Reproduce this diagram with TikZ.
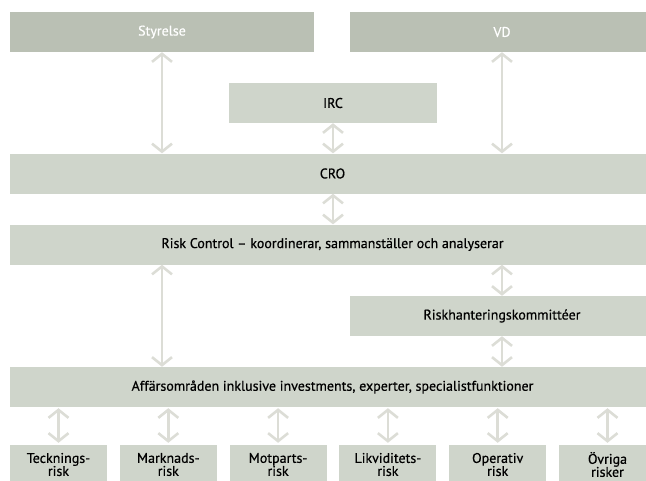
\documentclass[tikz,border=0pt]{standalone}
\usepackage{fontspec}
\setmainfont{PT Sans}[FakeBold=0.5]
\usetikzlibrary{arrows.meta}
\definecolor{darkbox}{HTML}{BAC0B4}
\definecolor{lightbox}{HTML}{CFD5CB}
\definecolor{arrowc}{HTML}{DCDDD6}
\begin{document}
\begin{tikzpicture}[x=1pt,y=-1pt,
  box/.style={fill=lightbox,draw=none,inner sep=0pt,minimum height=40pt,font=\fontsize{14}{16}\selectfont,text=black},
  topbox/.style={box,fill=darkbox,text=white},
  riskbox/.style={fill=lightbox,draw=none,inner sep=0pt,minimum height=40pt,minimum width=97pt},
  risklabel/.style={inner sep=0pt,font=\fontsize{14}{13}\selectfont,align=center,text=black},
  arr/.style={draw=arrowc,line width=2.6pt,{Straight Barb[length=8pt,width=20pt]}-{Straight Barb[length=8pt,width=20pt]}}
]
\useasboundingbox (0,0) rectangle (646,480);
\begin{scope}
\clip (0,0) rectangle (646,480);
\node[topbox,minimum width=304pt] (sty) at (162,32) {Styrelse};
\node[topbox,minimum width=304pt] (vd) at (502,32) {VD};
\node[box,minimum width=208pt] (irc) at (333,103) {IRC};
\node[box,minimum width=645pt] (cro) at (332.5,173.5) {CRO};
\node[box,minimum width=645pt] (rc) at (332.5,244.5) {Risk Control -- koordinerar, sammanställer och analyserar};
\node[box,minimum width=304pt] (rk) at (502,316) {Riskhanteringskommittéer};
\node[box,minimum width=645pt] (aff) at (332.5,387) {Affärsområden inklusive investments, experter, specialistfunktioner};
\foreach \n/\x/\t in {r1/58.5/{Tecknings-\\risk},r2/168.3/{Marknads-\\risk},r3/278.1/{Motparts-\\risk},r4/387.9/{Likviditets-\\risk},r5/497.7/{Operativ\\risk},r6/607.5/{Övriga\\risker}}{
  \node[riskbox] (\n) at (\x,465) {};
  \node[risklabel] (\n t) at (\x,464.5) {\t};
}
\end{scope}
\draw[arr] (sty.south) -- (sty.south |- cro.north);
\draw[arr] (vd.south) -- (vd.south |- cro.north);
\draw[arr] (irc.south) -- (irc.south |- cro.north);
\draw[arr] (cro.south -| irc.south) -- (rc.north -| irc.south);
\draw[arr] (rc.south -| sty.south) -- (aff.north -| sty.south);
\draw[arr] (rc.south -| rk.north) -- (rk.north);
\draw[arr] (rk.south) -- (rk.south |- aff.north);
\foreach \r in {r1,r2,r3,r4,r5,r6}{
  \draw[arr,shorten <=1pt,shorten >=2pt] (aff.south -| \r.north) -- (\r.north);
}
\end{tikzpicture}
\end{document}
